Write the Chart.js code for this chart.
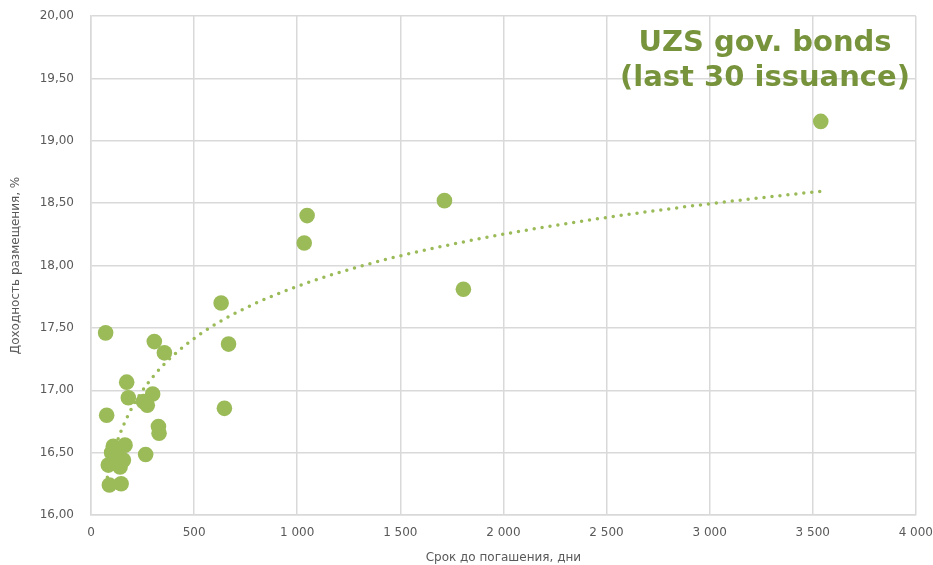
<!DOCTYPE html>
<html><head><meta charset="utf-8">
<script src="https://cdn.jsdelivr.net/npm/chart.js@4/dist/chart.umd.min.js"></script>
<style>html,body{margin:0;padding:0;background:#fff}#w{width:933px;height:565px}</style>
</head><body><div id="w"><canvas id="c"></canvas></div>
<script>
const daysToMaturity = [71, 307, 356, 667, 173, 181, 299, 254, 273, 76, 647, 327, 330, 165, 108, 265, 84, 157, 141, 89, 146, 631, 1034, 1048, 1714, 1806, 3539, 117, 125, 100];
const placementYield = [17.46, 17.39, 17.30, 17.37, 17.065, 16.94, 16.97, 16.91, 16.88, 16.80, 16.855, 16.71, 16.655, 16.56, 16.55, 16.485, 16.40, 16.44, 16.385, 16.24, 16.25, 17.70, 18.18, 18.40, 18.52, 17.81, 19.155, 16.48, 16.53, 16.50];
const titleLines = ["UZS gov. bonds", "(last 30 issuance)"];
const xTitle = "Срок до погашения, дни";
const yTitle = "Доходность размещения, %";

// logarithmic least-squares trendline fitted to the data
const n = daysToMaturity.length;
let sl=0, sy=0, sll=0, sly=0;
for (let i=0;i<n;i++){const l=Math.log(daysToMaturity[i]);sl+=l;sy+=placementYield[i];sll+=l*l;sly+=l*placementYield[i];}
const a=(n*sly-sl*sy)/(n*sll-sl*sl), b=(sy-a*sl)/n;
const xmin=Math.min(...daysToMaturity), xmax=Math.max(...daysToMaturity);
const trend=[];
for(let k=0;k<=200;k++){const x=xmin+(xmax-xmin)*k/200;trend.push({x:x,y:a*Math.log(x)+b});}

const points = daysToMaturity.map((x,i)=>({x:x,y:placementYield[i]}));
const fmtNum = v => String(v).replace(/\B(?=(\d{3})+(?!\d))/g,' ');

const titlePlugin = {id:'tp', afterDatasetsDraw(chart){
  const ctx=chart.ctx; ctx.save();
  ctx.fillStyle='#77933C'; ctx.font='bold 29px "DejaVu Sans"'; ctx.textAlign='center'; ctx.textBaseline='middle';
  ctx.fillText(titleLines[0],765,43); ctx.fillText(titleLines[1],765,78);
  ctx.restore();}};

new Chart(document.getElementById('c'),{
  type:'scatter',
  data:{datasets:[
    {data:trend, showLine:true, pointRadius:0, borderColor:'#9BBB59', borderWidth:3.5, borderDash:[0,8], borderCapStyle:'round', fill:false, order:2},
    {data:points, pointRadius:7.8, pointHoverRadius:7.8, backgroundColor:'#9BBB59', borderColor:'#9BBB59', borderWidth:0, order:1}
  ]},
  options:{responsive:true, maintainAspectRatio:false, animation:false,
    layout:{padding:{top:16,right:17,left:9,bottom:0}},
    plugins:{legend:{display:false}, tooltip:{enabled:false}},
    scales:{
      x:{type:'linear', min:0, max:4000,
        ticks:{stepSize:500, color:'#595959', font:{family:'DejaVu Sans',size:12}, padding:0, callback:v=>fmtNum(v), maxRotation:0},
        grid:{color:'#D9D9D9', lineWidth:1.5, drawTicks:true, tickLength:11, tickColor:'rgba(0,0,0,0)'}, border:{color:'#D9D9D9', width:1.5},
        title:{display:true, text:xTitle, color:'#595959', font:{family:'DejaVu Sans',size:12}, padding:{top:8,bottom:0}},
        afterFit:s=>{s.height=50;}},
      y:{type:'linear', min:16, max:20,
        ticks:{stepSize:0.5, color:'#595959', font:{family:'DejaVu Sans',size:12}, padding:0, callback:v=>v.toFixed(2).replace('.',',')},
        grid:{color:'#D9D9D9', lineWidth:1.5, drawTicks:true, tickLength:17, tickColor:'rgba(0,0,0,0)'}, border:{color:'#D9D9D9', width:1.5},
        title:{display:true, text:yTitle, color:'#595959', font:{family:'DejaVu Sans',size:12}, padding:{top:0,bottom:8}},
        afterFit:s=>{s.width=82;}}
    }},
  plugins:[titlePlugin]
});
</script></body></html>
